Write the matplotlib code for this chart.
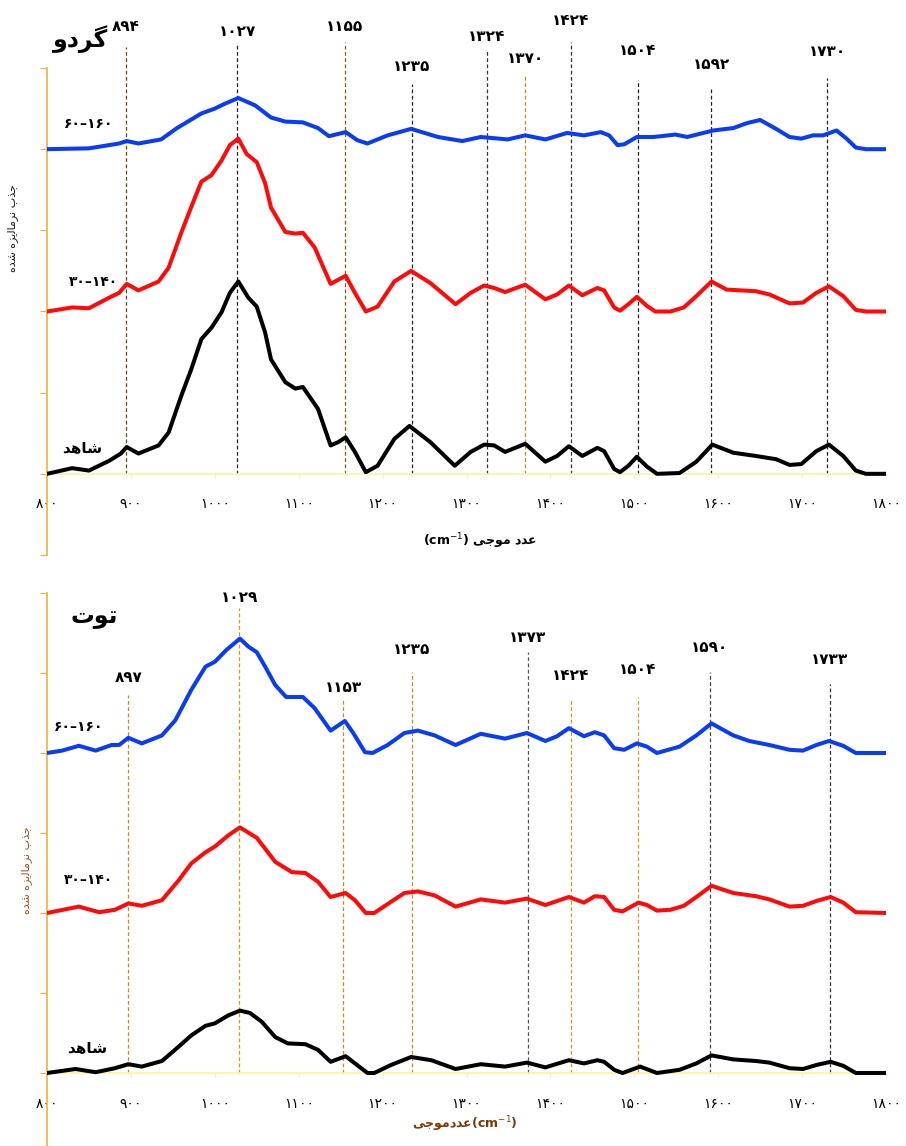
import matplotlib
matplotlib.use("Agg")
import matplotlib.pyplot as plt

plt.rcParams['font.family'] = ['DejaVu Sans']

# ---------------- data: walnut (گردو) panel ----------------
walnut_ctrl_x = [800, 830, 850, 874, 888, 895, 909, 933, 945, 960, 972, 984, 996, 1008, 1018, 1028, 1040, 1050, 1060, 1067,
                 1084, 1096, 1105, 1123, 1138, 1147, 1156, 1167, 1180, 1194, 1214, 1232, 1257, 1286, 1305, 1321, 1333, 1346,
                 1370, 1394, 1408, 1422, 1438, 1456, 1464, 1476, 1483, 1493, 1503, 1515, 1527, 1554, 1574, 1593, 1618, 1645,
                 1669, 1685, 1699, 1717, 1732, 1749, 1764, 1776, 1800]
walnut_ctrl_y = [0.0, 0.07, 0.04, 0.16, 0.25, 0.33, 0.25, 0.35, 0.51, 0.96, 1.29, 1.66, 1.80, 1.99, 2.23, 2.37, 2.17, 2.06, 1.74, 1.41,
                 1.13, 1.05, 1.07, 0.80, 0.35, 0.39, 0.45, 0.27, 0.02, 0.10, 0.43, 0.59, 0.39, 0.10, 0.27, 0.36, 0.35, 0.27,
                 0.37, 0.15, 0.22, 0.34, 0.22, 0.32, 0.28, 0.06, 0.02, 0.10, 0.21, 0.09, 0.0, 0.01, 0.15, 0.36, 0.26, 0.22,
                 0.18, 0.11, 0.12, 0.28, 0.36, 0.22, 0.04, 0.0, 0.0]

walnut_30_x = [800, 830, 850, 874, 886, 895, 909, 933, 945, 960, 972, 984, 996, 1008, 1018, 1028, 1038, 1050, 1060, 1067,
               1084, 1096, 1105, 1119, 1138, 1147, 1156, 1167, 1180, 1194, 1214, 1234, 1257, 1287, 1305, 1321, 1333, 1346,
               1370, 1394, 1408, 1422, 1438, 1456, 1464, 1476, 1483, 1493, 1503, 1515, 1525, 1543, 1559, 1574, 1592, 1610,
               1645, 1661, 1685, 1701, 1717, 1732, 1749, 1764, 1776, 1800]
walnut_30_y = [0.0, 0.05, 0.04, 0.17, 0.23, 0.34, 0.26, 0.37, 0.54, 0.97, 1.29, 1.60, 1.68, 1.86, 2.05, 2.13, 1.94, 1.84, 1.58, 1.28,
               0.98, 0.96, 0.97, 0.79, 0.34, 0.39, 0.44, 0.23, 0.0, 0.06, 0.37, 0.50, 0.35, 0.09, 0.23, 0.32, 0.29, 0.24,
               0.33, 0.15, 0.21, 0.32, 0.20, 0.29, 0.26, 0.05, 0.01, 0.09, 0.18, 0.07, 0.0, 0.0, 0.05, 0.19, 0.37, 0.27,
               0.25, 0.21, 0.10, 0.11, 0.23, 0.31, 0.19, 0.02, 0.0, 0.0]

walnut_60_x = [800, 850, 886, 895, 909, 936, 955, 984, 1000, 1012, 1028, 1048, 1067, 1084, 1105, 1123, 1136, 1156, 1170, 1182,
               1206, 1234, 1266, 1295, 1317, 1349, 1370, 1394, 1420, 1440, 1460, 1470, 1480, 1488, 1503, 1523, 1549, 1563,
               1594, 1618, 1634, 1650, 1669, 1685, 1699, 1713, 1725, 1741, 1753, 1764, 1776, 1800]
walnut_60_y = [0.0, 0.01, 0.07, 0.10, 0.07, 0.12, 0.26, 0.44, 0.50, 0.56, 0.63, 0.54, 0.39, 0.34, 0.33, 0.26, 0.16, 0.21, 0.11, 0.07,
               0.17, 0.25, 0.15, 0.10, 0.15, 0.12, 0.17, 0.12, 0.20, 0.17, 0.21, 0.17, 0.05, 0.06, 0.15, 0.15, 0.18, 0.15,
               0.23, 0.26, 0.32, 0.36, 0.25, 0.15, 0.13, 0.17, 0.17, 0.23, 0.13, 0.02, 0.0, 0.0]

walnut_peaks = [894, 1027, 1155, 1235, 1324, 1370, 1424, 1504, 1592, 1730]
walnut_peak_labels = ['۸۹۴', '۱۰۲۷', '۱۱۵۵', '۱۲۳۵', '۱۳۲۴', '۱۳۷۰', '۱۴۲۴', '۱۵۰۴', '۱۵۹۲', '۱۷۳۰']

# ---------------- data: mulberry (توت) panel ----------------
mulb_ctrl_x = [800, 834, 858, 881, 897, 913, 937, 957, 972, 989, 1000, 1016, 1030, 1042, 1056, 1072, 1087, 1108, 1123, 1138,
               1156, 1167, 1182, 1190, 1210, 1234, 1258, 1287, 1317, 1346, 1372, 1394, 1422, 1440, 1456, 1464, 1476, 1486,
               1507, 1527, 1554, 1574, 1592, 1618, 1645, 1661, 1685, 1701, 1717, 1734, 1749, 1764, 1800]
mulb_ctrl_y = [0.0, 0.05, 0.01, 0.06, 0.11, 0.08, 0.15, 0.33, 0.47, 0.59, 0.62, 0.72, 0.78, 0.75, 0.64, 0.45, 0.37, 0.36, 0.29, 0.14,
               0.21, 0.12, 0.0, 0.0, 0.10, 0.20, 0.16, 0.05, 0.11, 0.08, 0.13, 0.07, 0.16, 0.12, 0.16, 0.14, 0.04, 0.0,
               0.08, 0.0, 0.04, 0.12, 0.22, 0.17, 0.15, 0.13, 0.06, 0.05, 0.10, 0.14, 0.09, 0.0, 0.0]

mulb_30_x = [800, 838, 862, 881, 897, 913, 937, 957, 972, 989, 1000, 1016, 1030, 1050, 1072, 1092, 1108, 1123, 1138, 1156,
             1167, 1180, 1190, 1210, 1226, 1242, 1262, 1287, 1317, 1346, 1372, 1394, 1422, 1440, 1453, 1464, 1476, 1486,
             1505, 1515, 1527, 1543, 1559, 1574, 1592, 1618, 1645, 1661, 1685, 1701, 1717, 1734, 1749, 1764, 1800]
mulb_30_y = [0.0, 0.08, 0.01, 0.04, 0.12, 0.09, 0.16, 0.41, 0.62, 0.76, 0.83, 0.97, 1.07, 0.94, 0.64, 0.51, 0.50, 0.39, 0.20, 0.25,
             0.16, 0.0, 0.0, 0.14, 0.25, 0.27, 0.22, 0.08, 0.17, 0.13, 0.18, 0.10, 0.20, 0.13, 0.21, 0.20, 0.04, 0.02,
             0.13, 0.10, 0.03, 0.04, 0.09, 0.20, 0.34, 0.25, 0.21, 0.17, 0.08, 0.09, 0.15, 0.20, 0.13, 0.01, 0.0]

mulb_60_x = [800, 818, 838, 858, 877, 886, 897, 913, 937, 953, 972, 989, 1000, 1014, 1030, 1040, 1050, 1060, 1072, 1085,
             1105, 1119, 1138, 1155, 1165, 1179, 1188, 1206, 1226, 1242, 1262, 1287, 1317, 1346, 1372, 1394, 1408, 1422,
             1440, 1453, 1464, 1476, 1488, 1503, 1515, 1527, 1554, 1574, 1592, 1618, 1637, 1661, 1685, 1701, 1717, 1732,
             1749, 1764, 1800]
mulb_60_y = [0.0, 0.03, 0.09, 0.03, 0.10, 0.10, 0.19, 0.12, 0.22, 0.41, 0.79, 1.08, 1.14, 1.29, 1.43, 1.33, 1.26, 1.08, 0.85, 0.70,
             0.70, 0.56, 0.28, 0.40, 0.25, 0.01, 0.0, 0.10, 0.25, 0.28, 0.22, 0.10, 0.24, 0.18, 0.25, 0.15, 0.21, 0.31,
             0.21, 0.26, 0.22, 0.06, 0.04, 0.12, 0.08, 0.0, 0.08, 0.22, 0.37, 0.22, 0.15, 0.10, 0.04, 0.03, 0.10, 0.15,
             0.09, 0.0, 0.0]

mulb_peaks = [897, 1029, 1153, 1235, 1373, 1424, 1504, 1590, 1733]
mulb_peak_labels = ['۸۹۷', '۱۰۲۹', '۱۱۵۳', '۱۲۳۵', '۱۳۷۳', '۱۴۲۴', '۱۵۰۴', '۱۵۹۰', '۱۷۳۳']

x_ticks = [800, 900, 1000, 1100, 1200, 1300, 1400, 1500, 1600, 1700, 1800]
x_tick_labels = ['۸۰۰', '۹۰۰', '۱۰۰۰', '۱۱۰۰', '۱۲۰۰', '۱۳۰۰', '۱۴۰۰', '۱۵۰۰', '۱۶۰۰', '۱۷۰۰', '۱۸۰۰']

series_labels = ['شاهد', '۳۰–۱۴۰', '۶۰–۱۶۰']

# Persian strings in visual (presentation-form, left-to-right) order
fa_walnut = '\uFEED\uFEA9\uFEAE\uFB94'               # گردو
fa_mulberry = '\uFE95\uFEEE\uFE97'                   # توت
fa_control = '\uFEAA\uFEEB\uFE8E\uFEB7'              # شاهد
fa_ylabel = ('\uFEE9\uFEAA\uFEB7 '
             '\uFEE9\uFEB0\uFBFE\uFEDF\uFE8E\uFEE3\uFEAE\uFEE7 '
             '\uFE8F\uFEAC\uFE9F')                   # جذب نرمالیزه شده
fa_wavenum = '\uFBFD\uFE9F\uFEEE\uFEE3 \uFEA9\uFEAA\uFECB'   # عدد موجی
fa_wavenum_tight = '\uFBFD\uFE9F\uFEEE\uFEE3\uFEA9\uFEAA\uFECB'

# ---------------- layout / style ----------------
W, H = 906, 1146
fig = plt.figure(figsize=(W / 100, H / 100), dpi=100)
AX_COL = '#f2b233'
XAX_COL = '#fff1a6'
BLUE = '#0a3cf5'
RED = '#ff0a0a'
LW = 2.9

def make_axes(top_px, bot_px, ylo, yhi, yticks):
    ax = fig.add_axes([47 / W, 1 - bot_px / H, 839 / W, (bot_px - top_px) / H])
    ax.set_xticks(x_ticks)
    ax.set_xticklabels(x_tick_labels, fontsize=8, fontweight='bold')
    ax.set_yticks(yticks)
    ax.set_xlim(800, 1800)
    ax.set_ylim(ylo, yhi)
    for s in ['top', 'right']:
        ax.spines[s].set_visible(False)
    ax.spines['left'].set_color(AX_COL)
    ax.spines['left'].set_linewidth(1.2)
    ax.spines['bottom'].set_position(('data', 0))
    ax.spines['bottom'].set_color(XAX_COL)
    ax.spines['bottom'].set_linewidth(1.2)
    ax.tick_params(axis='y', direction='out', length=5, color=AX_COL, labelleft=False)
    ax.tick_params(axis='x', direction='out', length=3, color=XAX_COL, pad=14)
    ax.patch.set_alpha(0)
    return ax

def draw(ax, x, y, off, col):
    ax.plot(x, [v + off for v in y], color=col, lw=LW, solid_joinstyle='round',
            solid_capstyle='round', zorder=3)

# ---------- top panel ----------
ax1 = make_axes(68, 555, -1, 5, [-1, 0, 1, 2, 3, 4, 5])
draw(ax1, walnut_ctrl_x, walnut_ctrl_y, 0, 'black')
draw(ax1, walnut_30_x, walnut_30_y, 2, RED)
draw(ax1, walnut_60_x, walnut_60_y, 4, BLUE)

u1 = 487 / 6.0
def v1(px):
    return (475 - px) / u1
w_label_px = [28, 33, 28, 68, 38, 60, 22, 52, 66, 53]
w_line_px = [48, 45, 43, 85, 52, 76, 43, 81, 88, 79]
w_line_col = ['#6b4a10', '#222222', '#8a5a10', '#222222', '#333333', '#c98a1a', '#333333', '#222222', '#222222', '#222222']
for p, lab, lp, tp, c in zip(walnut_peaks, walnut_peak_labels, w_label_px, w_line_px, w_line_col):
    ax1.vlines(p, 0, v1(tp), colors=c, linestyles=(0, (3, 2)), lw=0.9, clip_on=False, zorder=2)
    ax1.text(p, v1(lp), lab, ha='center', va='center', fontsize=11, fontweight='bold', clip_on=False)

ax1.text(840, v1(40), fa_walnut, ha='center', va='center', fontsize=17, fontweight='bold', clip_on=False)
ax1.text(850, v1(125), series_labels[2], ha='center', va='center', fontsize=10, fontweight='bold')
ax1.text(856, v1(283), series_labels[1], ha='center', va='center', fontsize=10, fontweight='bold')
ax1.text(842, v1(449), fa_control, ha='center', va='center', fontsize=11, fontweight='bold')
fig.text(480 / W, 1 - 541 / H, '(cm$^{-1}$) ' + fa_wavenum, ha='center', va='center', fontsize=9, fontweight='bold')
fig.text(13 / W, 1 - 228 / H, fa_ylabel, rotation=90, ha='center', va='center', fontsize=8, color='#1a1a1a')

# ---------- bottom panel ----------
u2 = 80.0
ylo2 = -(1146 - 1073) / u2
ax2 = make_axes(593, 1146, ylo2, 6, [0, 1, 2, 3, 4, 5, 6])
draw(ax2, mulb_ctrl_x, mulb_ctrl_y, 0, 'black')
draw(ax2, mulb_30_x, mulb_30_y, 2, RED)
draw(ax2, mulb_60_x, mulb_60_y, 4, BLUE)

def v2(px):
    return (1073 - px) / u2
m_label_px = [678, 598, 687, 650, 637, 675, 670, 648, 660]
m_line_px = [695, 608, 698, 672, 652, 700, 697, 672, 684]
m_line_col = ['#c98a1a', '#d9961c', '#c98a1a', '#c98a1a', '#555555', '#d9961c', '#d9961c', '#444444', '#333333']
for p, lab, lp, tp, c in zip(mulb_peaks, mulb_peak_labels, m_label_px, m_line_px, m_line_col):
    ax2.vlines(p, 0, v2(tp), colors=c, linestyles=(0, (3, 2)), lw=0.9, clip_on=False, zorder=2)
    ax2.text(p, v2(lp), lab, ha='center', va='center', fontsize=11, fontweight='bold', clip_on=False)

ax2.text(856, v2(617), fa_mulberry, ha='center', va='center', fontsize=17, fontweight='bold', clip_on=False)
ax2.text(838, v2(727), series_labels[2], ha='center', va='center', fontsize=10, fontweight='bold')
ax2.text(850, v2(880), series_labels[1], ha='center', va='center', fontsize=10, fontweight='bold')
ax2.text(848, v2(1048), fa_control, ha='center', va='center', fontsize=11, fontweight='bold')
fig.text(465 / W, 1 - 1124 / H, fa_wavenum_tight + '(cm$^{-1}$)', ha='center', va='center', fontsize=9, fontweight='bold', color='#7a3a08')
fig.text(27 / W, 1 - 870 / H, fa_ylabel, rotation=90, ha='center', va='center', fontsize=8, color='#a0521a')

fig.savefig('out.png', dpi=100)
